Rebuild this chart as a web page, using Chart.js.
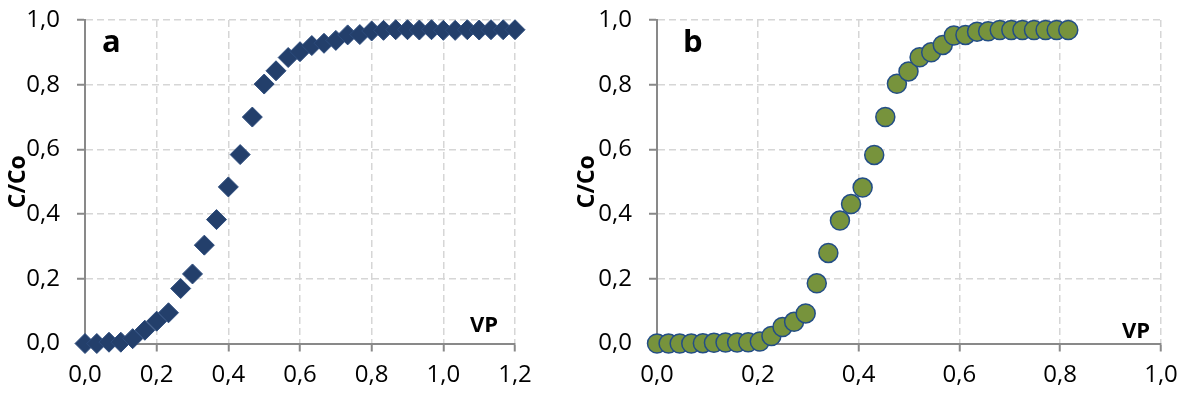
<!DOCTYPE html>
<html>
<head>
<meta charset="utf-8">
<script src="https://cdn.jsdelivr.net/npm/chart.js@4.4.0/dist/chart.umd.min.js"></script>
<style>
  html, body { margin: 0; padding: 0; background: #fff; }
  body { width: 1182px; height: 394px; position: relative; overflow: hidden; }
  canvas { position: absolute; top: 0; }
  #chartA { left: 0; }
  #chartB { left: 572px; }
</style>
</head>
<body>
<canvas id="chartA" width="572" height="394"></canvas>
<canvas id="chartB" width="610" height="394"></canvas>
<script>
// panel a : pore volumes and C/Co
const vpA = [0, 0.033, 0.067, 0.1, 0.133, 0.167, 0.2, 0.233, 0.267, 0.3, 0.333, 0.367, 0.4, 0.433, 0.467, 0.5, 0.533, 0.567, 0.6, 0.633, 0.667, 0.7, 0.733, 0.767, 0.8, 0.833, 0.867, 0.9, 0.933, 0.967, 1.0, 1.033, 1.067, 1.1, 1.133, 1.167, 1.2];
const ccA = [0, 0, 0.004, 0.004, 0.015, 0.041, 0.069, 0.095, 0.17, 0.215, 0.304, 0.383, 0.484, 0.584, 0.70, 0.802, 0.843, 0.884, 0.902, 0.921, 0.928, 0.937, 0.954, 0.955, 0.966, 0.968, 0.97, 0.97, 0.969, 0.97, 0.968, 0.968, 0.97, 0.969, 0.97, 0.97, 0.97];

// panel b
const vpB = [0, 0.023, 0.045, 0.068, 0.091, 0.113, 0.136, 0.159, 0.181, 0.204, 0.227, 0.249, 0.272, 0.295, 0.317, 0.34, 0.363, 0.385, 0.408, 0.431, 0.453, 0.476, 0.499, 0.521, 0.544, 0.567, 0.589, 0.612, 0.635, 0.657, 0.68, 0.703, 0.725, 0.748, 0.771, 0.793, 0.816];
const ccB = [0, 0, 0, 0, 0.001, 0.002, 0.003, 0.003, 0.004, 0.006, 0.023, 0.051, 0.067, 0.093, 0.186, 0.28, 0.38, 0.431, 0.482, 0.583, 0.70, 0.803, 0.841, 0.885, 0.9, 0.923, 0.952, 0.954, 0.964, 0.965, 0.969, 0.969, 0.969, 0.969, 0.969, 0.969, 0.969];

const yTicks = [0, 0.2, 0.4, 0.6, 0.8, 1.0];

const FONT = "'Open Sans', 'DejaVu Sans', sans-serif";
const fmt = v => Number(v).toFixed(1).replace('.', ',');

// panel letter + "VP" label drawn on the canvas
const labelsPlugin = {
  id: 'panelLabels',
  afterDraw(chart, args, opts) {
    const ctx = chart.ctx;
    ctx.save();
    ctx.fillStyle = '#000';
    ctx.textBaseline = 'alphabetic';
    ctx.font = 'bold 31px ' + FONT;
    ctx.textAlign = 'left';
    ctx.fillText(opts.letter, opts.letterX, opts.letterY);
    ctx.font = 'bold 22px ' + FONT;
    ctx.textAlign = 'right';
    ctx.fillText('VP', opts.vpX, opts.vpY);
    ctx.restore();
  }
};

const gridOpts = { color: '#d6d6d6', lineWidth: 1.5, tickLength: 8, tickColor: '#898989', tickWidth: 2, tickBorderDash: [] };
const borderOpts = { display: true, color: '#898989', width: 2, dash: [7, 4] };

function makeChart(id, xs, ys, xMax, yAxisWidth, titlePad, rightPad, style, labels) {
  const pts = xs.map((x, i) => ({ x: x, y: ys[i] }));
  return new Chart(document.getElementById(id), {
    type: 'scatter',
    data: { datasets: [Object.assign({ data: pts, clip: false }, style)] },
    options: {
      responsive: false,
      animation: false,
      layout: { padding: { top: 20, right: rightPad, left: 0, bottom: 0 } },
      plugins: { legend: { display: false }, tooltip: { enabled: false }, panelLabels: labels },
      scales: {
        x: {
          type: 'linear', min: 0, max: xMax,
          afterFit: s => { s.height = 50.5; s.paddingLeft = 0; s.paddingRight = 0; },
          ticks: { stepSize: 0.2, callback: fmt, color: '#000', padding: 9, maxRotation: 0, font: { family: FONT, size: 24 } },
          grid: gridOpts,
          border: borderOpts
        },
        y: {
          type: 'linear', min: 0, max: 1,
          afterFit: s => { s.width = yAxisWidth; s.paddingTop = 0; s.paddingBottom = 0; },
          afterBuildTicks: s => { s.ticks = yTicks.map(v => ({ value: v })); },
          ticks: { callback: fmt, color: '#000', padding: 17, font: { family: FONT, size: 24 } },
          grid: gridOpts,
          border: borderOpts,
          title: { display: true, text: 'C/Co', color: '#000', padding: { top: titlePad, bottom: 0 }, font: { family: FONT, size: 23, weight: 'bold', lineHeight: 1.2 } }
        }
      }
    },
    plugins: [labelsPlugin]
  });
}

makeChart('chartA', vpA, ccA, 1.2, 85, 5, 57,
  { pointStyle: 'rectRot', pointRadius: 10, backgroundColor: '#233f6b', borderColor: '#2c4b7c', borderWidth: 1, showLine: false },
  { letter: 'a', letterX: 102, letterY: 52, vpX: 498, vpY: 332 });

makeChart('chartB', vpB, ccB, 1.0, 85, 2, 21,
  { pointStyle: 'circle', pointRadius: 9.5, backgroundColor: '#77933c', borderColor: '#234e86', borderWidth: 1.5, showLine: false },
  { letter: 'b', letterX: 111, letterY: 52, vpX: 578, vpY: 338 });
</script>
</body>
</html>
